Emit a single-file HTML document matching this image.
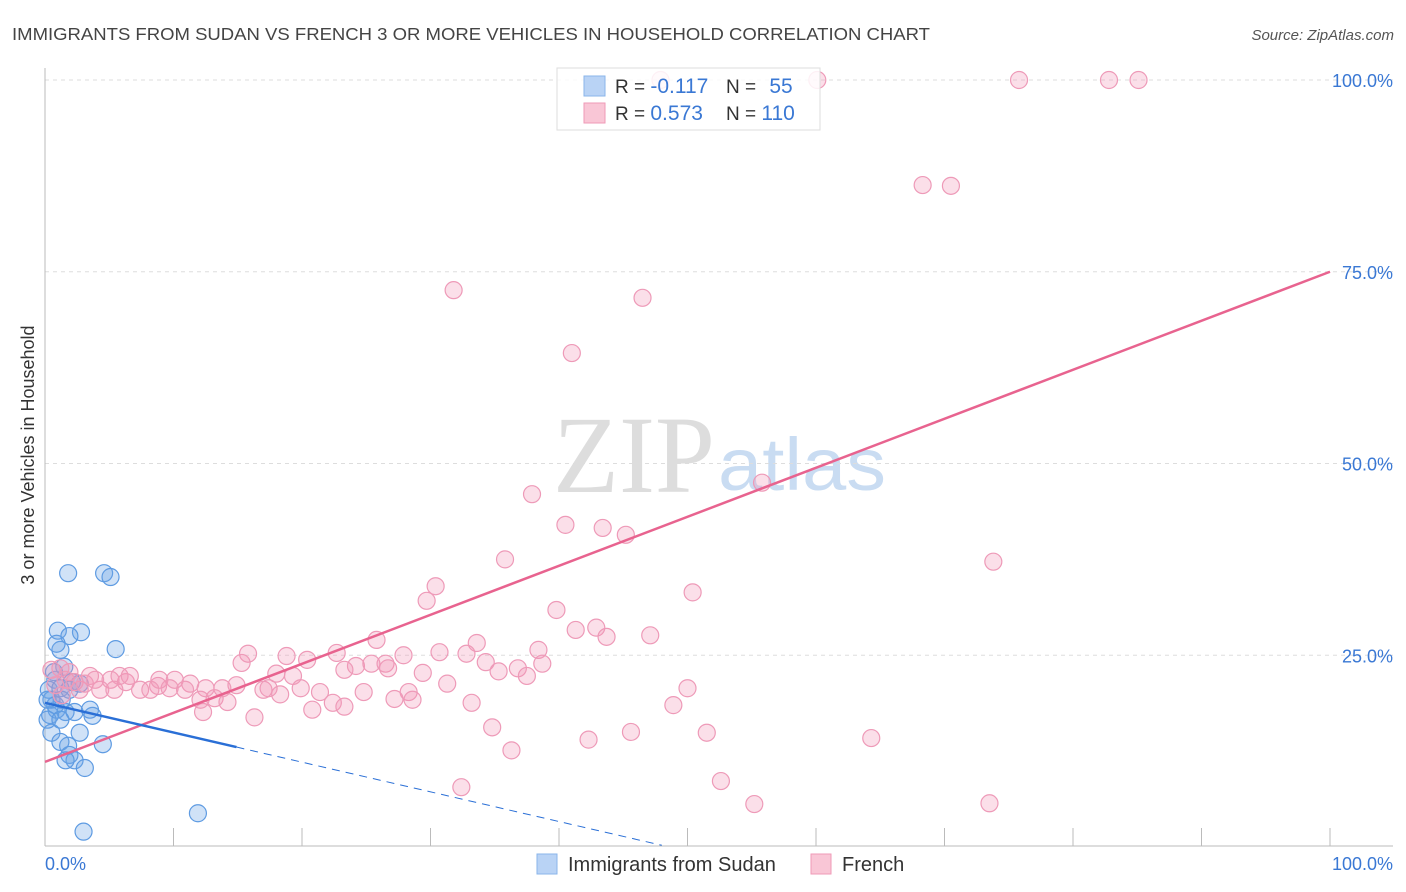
<!DOCTYPE html>
<html><head><meta charset="utf-8"><style>
body{margin:0;background:#fff;font-family:"Liberation Sans",sans-serif;}
#wrap{position:relative;width:1406px;height:892px;overflow:hidden}
</style></head><body>
<div id="wrap">
<svg id="svg" width="1406" height="892" xmlns="http://www.w3.org/2000/svg">
<text x="12" y="40" font-size="17.5" fill="#444" textLength="918" lengthAdjust="spacingAndGlyphs">IMMIGRANTS FROM SUDAN VS FRENCH 3 OR MORE VEHICLES IN HOUSEHOLD CORRELATION CHART</text>
<text x="1394" y="40" font-size="15" fill="#555" font-style="italic" text-anchor="end">Source: ZipAtlas.com</text>
<text x="553" y="492" font-size="110" fill="#ddd" font-family="Liberation Serif,serif" textLength="162" lengthAdjust="spacingAndGlyphs">ZIP</text>
<text x="718" y="490" font-size="74" fill="#c9dcf2" textLength="168" lengthAdjust="spacingAndGlyphs">atlas</text>
<text transform="translate(34,455) rotate(-90)" font-size="18" fill="#333" text-anchor="middle">3 or more Vehicles in Household</text>
<g id="grid"></g><g id="axes"></g><g id="pts"></g><g id="lines"></g>
<g>
<rect x="557" y="68" width="263" height="62" fill="rgba(255,255,255,0.85)" stroke="#ddd"/>
<rect x="584" y="76" width="21" height="20" fill="#b9d3f5" stroke="#8ab4ea"/>
<rect x="584" y="103" width="21" height="20" fill="#f9c6d6" stroke="#ef9ab7"/>
<text x="615" y="93" font-size="19" fill="#333">R = <tspan fill="#3a78d4" font-size="21">-0.117</tspan></text>
<text x="726" y="93" font-size="19" fill="#333">N = <tspan fill="#3a78d4" dx="8" font-size="21">55</tspan></text>
<text x="615" y="120" font-size="19" fill="#333">R = <tspan fill="#3a78d4" font-size="21">0.573</tspan></text>
<text x="726" y="120" font-size="19" fill="#333">N = <tspan fill="#3a78d4" font-size="21">110</tspan></text>
</g>
<g>
<rect x="537" y="854" width="20" height="20" fill="#b9d3f5" stroke="#8ab4ea"/>
<text x="568" y="871" font-size="20" fill="#333">Immigrants from Sudan</text>
<rect x="811" y="854" width="20" height="20" fill="#f9c6d6" stroke="#ef9ab7"/>
<text x="842" y="871" font-size="20" fill="#333">French</text>
</g>
<text x="45" y="870" font-size="18" fill="#3a78d4">0.0%</text>
<text x="1393" y="870" font-size="18" fill="#3a78d4" text-anchor="end">100.0%</text>
</svg>
</div>
<script>
const yTicks=[25,50,75,100];
const yTickLabels=["25.0%","50.0%","75.0%","100.0%"];
const xTicks=[0,10,20,30,40,50,60,70,80,90,100];
const sudanX=[1.8,4.6,5.1,1.0,2.8,1.9,1.2,0.9,5.5,1.5,0.8,0.3,1.2,1.9,2.7,0.5,0.9,1.6,2.3,3.7,0.4,0.5,2.7,1.8,1.2,4.5,1.9,2.3,3.1,1.6,11.9,3.0,0.2,0.8,1.3,2.1,0.7,3.5,1.2,0.2];
const sudanY=[35.7,35.7,35.2,28.2,28.0,27.5,25.7,26.5,25.8,23.5,21.8,20.5,20.7,20.5,21.3,19.2,17.9,17.6,17.6,17.1,17.2,14.9,14.9,13.2,13.7,13.4,12.0,11.3,10.3,11.3,4.4,2.0,16.6,18.5,19.2,21.5,22.8,17.9,16.6,19.2];
const frenchX=[47.9,60.1,75.8,82.8,85.1,68.3,70.5,31.8,46.5,41.0,55.8,37.9,40.5,43.4,45.2,73.8,35.8,30.4,29.7,50.4,39.8,41.3,42.9,43.7,47.1,25.8,33.6,38.4,30.7,32.8,15.8,18.8,22.7,27.9,34.3,20.4,15.3,36.8,38.7,24.2,25.4,26.5,26.7,18.0,19.3,35.3,37.5,29.4,23.3,19.9,21.4,24.8,28.3,31.3,50.0,17.0,17.4,18.3,28.6,27.2,33.2,14.9,13.8,12.5,11.3,10.1,8.8,7.4,6.3,5.1,3.5,1.9,1.2,0.5,2.7,4.3,8.9,9.7,13.2,14.2,12.3,16.3,20.8,22.4,23.3,48.9,51.5,45.6,42.3,34.8,36.3,64.3,52.6,55.2,73.5,32.4,8.2,10.9,5.8,6.6,1.6,2.3,3.1,3.9,0.8,1.3,5.4,12.1];
const frenchY=[100,100,100,100,100,86.3,86.2,72.6,71.6,64.4,47.5,46.0,42.0,41.6,40.7,37.2,37.5,34.0,32.1,33.2,30.9,28.3,28.6,27.4,27.6,27.0,26.6,25.7,25.4,25.2,25.2,24.9,25.3,25.0,24.1,24.4,24.0,23.3,23.9,23.6,23.9,23.9,23.3,22.6,22.3,22.9,22.3,22.7,23.1,20.7,20.2,20.2,20.2,21.3,20.7,20.5,20.7,19.9,19.2,19.3,18.8,21.1,20.7,20.7,21.3,21.8,21.0,20.5,21.5,21.8,22.3,22.8,23.3,23.1,20.5,20.5,21.8,20.7,19.4,18.9,17.6,16.9,17.9,18.8,18.3,18.5,14.9,15.0,14.0,15.6,12.6,14.2,8.6,5.6,5.7,7.8,20.5,20.5,22.3,22.3,21.8,21.5,21.3,21.8,21.1,19.8,20.5,19.2];
const sudanTrend=[18.8,-0.387,14.9,48];
const frenchTrend=[11.1,0.639];
const X0=45,X1=1330,Y0=847,Y100=80;
const sx=v=>X0+(X1-X0)*v/100, sy=v=>Y0-(Y0-Y100)*v/100;
const NS="http://www.w3.org/2000/svg";
function mk(tag,attrs,parent){const e=document.createElementNS(NS,tag);for(const k in attrs)e.setAttribute(k,attrs[k]);document.getElementById(parent).appendChild(e);return e;}
yTicks.forEach((t,i)=>{
 const l=mk('line',{x1:45,x2:1393,y1:sy(t),y2:sy(t),stroke:'#ddd','stroke-dasharray':'4,4'},'grid');
 
 
 const tx=mk('text',{x:1393,y:sy(t)+7,'font-size':18,fill:'#3a78d4','text-anchor':'end'},'grid');
 tx.textContent=yTickLabels[i];
 
 
});
const ax=mk('line',{x1:45,x2:45,y1:68,y2:846,stroke:'#bbb'},'axes');


const bx=mk('line',{x1:45,x2:1393,y1:846,y2:846,stroke:'#bbb'},'axes');


xTicks.forEach(t=>{
 const l=mk('line',{x1:sx(t),x2:sx(t),y1:828,y2:846,stroke:'#bbb'},'axes');
 
 
});
sudanX.forEach((x,i)=>{
 const c=mk('circle',{cx:sx(x),cy:sy(sudanY[i]),r:8.5,fill:'rgba(110,165,230,0.32)',stroke:'#5e9be2','stroke-width':1.2},'pts');
 
 
});
frenchX.forEach((x,i)=>{
 const c=mk('circle',{cx:sx(x),cy:sy(frenchY[i]),r:8.5,fill:'rgba(242,150,182,0.3)',stroke:'#ee9ab8','stroke-width':1.2},'pts');
 
 
});
const fl=mk('line',{x1:sx(0),y1:sy(frenchTrend[0]),x2:sx(100),y2:sy(frenchTrend[0]+frenchTrend[1]*100),stroke:'#e8638f','stroke-width':2.5},'lines');


const f=x=>sudanTrend[0]+sudanTrend[1]*x;
const s1=mk('line',{x1:sx(0),y1:sy(f(0)),x2:sx(sudanTrend[2]),y2:sy(f(sudanTrend[2])),stroke:'#2a6fd6','stroke-width':2.5},'lines');


const s2=mk('line',{x1:sx(sudanTrend[2]),y1:sy(f(sudanTrend[2])),x2:sx(sudanTrend[3]),y2:sy(f(sudanTrend[3])),stroke:'#2a6fd6','stroke-width':1,'stroke-dasharray':'8,6'},'lines');


</script>
</body></html>
